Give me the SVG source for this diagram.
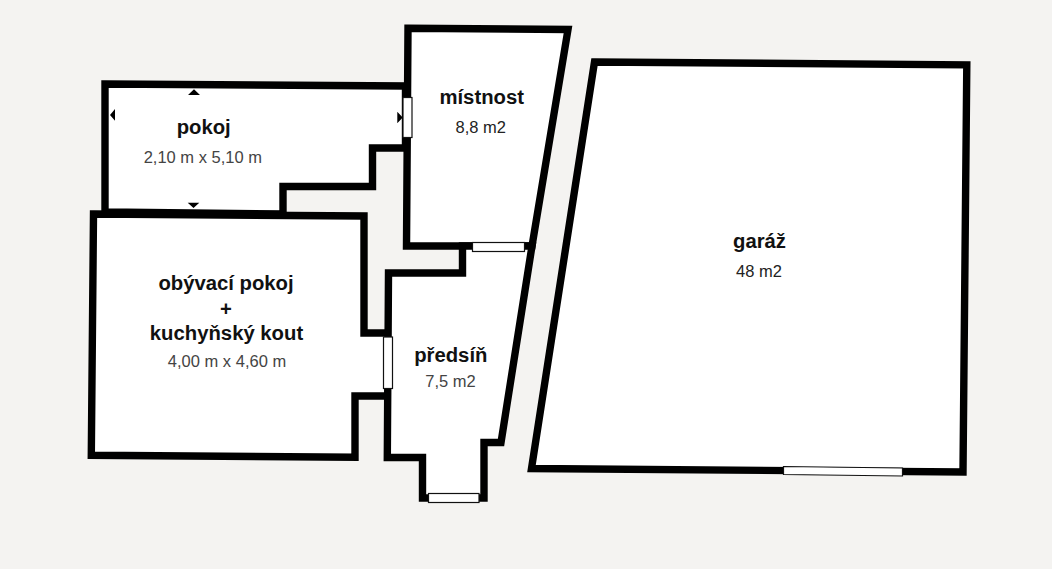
<svg xmlns="http://www.w3.org/2000/svg" width="1052" height="569" viewBox="0 0 1052 569">
<style>
.room{fill:#fff;stroke:#000;stroke-width:7.4;stroke-linejoin:miter;stroke-miterlimit:10}
.win{fill:#fff;stroke:#111;stroke-width:1.2}
.mark{fill:#000}
text{font-family:"Liberation Sans",Arial,sans-serif;text-anchor:middle}
.n{font-weight:700;font-size:20.300px;fill:#111}
.d{font-size:16.500px;fill:#444}
.k{fill:#222}
</style>
<rect width="1052" height="569" fill="#f4f3f1"/>
<g id="garaz">
<polygon class="room" points="594.500,62 966.800,64.800 963,472 531.500,468.500"/>
<polygon class="win" points="783.500,466.500 902.500,468 902.500,476 783.500,474.500"/>
<text class="n" x="759.500" y="248">garáž</text>
<text class="d k" x="759" y="277">48 m2</text>
</g>
<g id="pokoj">
<polygon class="room" points="105,84 405.500,86 405.500,148 372.500,148 372.500,186.500 283,186.500 283,214 105,212"/>
<path class="mark" d="M188 95 L194 89.300 L200 95Z M187.700 202.700 L199.300 202.700 L193.500 208Z M115 109 L115 120.700 L110 115Z M397.300 111.700 L402.700 117.500 L397.300 123.300Z"/>
<text class="n" x="203.700" y="134">pokoj</text>
<text class="d" x="202.800" y="163">2,10 m x 5,10 m</text>
</g>
<g id="obyvaci">
<polygon class="room" points="93.500,214 364,216 364,333 388.500,333 388.500,396 355,396 355,457.300 91.300,455.300"/>
<text class="n" x="226" y="290">obývací pokoj</text>
<text class="n" x="226" y="316">+</text>
<text class="n" x="226.500" y="340">kuchyňský kout</text>
<text class="d" x="227" y="367">4,00 m x 4,60 m</text>
</g>
<g id="mistnost">
<polygon class="room" points="408,28.300 568,29.500 532,246 406.500,246"/>
<rect class="win" x="403" y="97.500" width="9" height="40"/>
<text class="n" x="481.700" y="104">místnost</text>
<text class="d k" x="480.700" y="133">8,8 m2</text>
</g>
<g id="predsin">
<polygon class="room" points="388.500,273 462.500,273 462.500,246 532,246 501,442.500 484,442.500 484,498 422.500,498 422.500,457.500 387.300,457.500"/>
<rect class="win" x="472.500" y="242.500" width="52" height="9"/>
<rect class="win" x="383.500" y="337" width="9" height="51.500"/>
<rect class="win" x="428.500" y="493.500" width="50.500" height="9"/>
<text class="n" x="450.800" y="362">předsíň</text>
<text class="d" x="450.500" y="387">7,5 m2</text>
</g>
</svg>
